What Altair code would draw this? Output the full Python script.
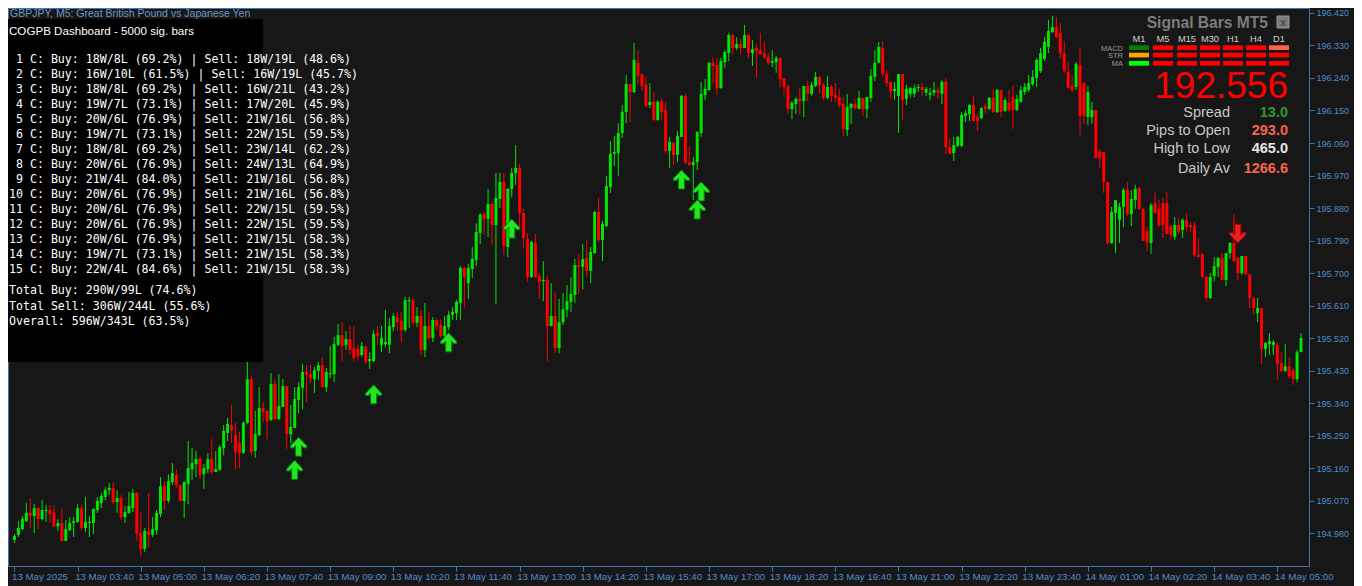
import altair as alt
import pandas as pd

# ---------------- data ----------------
opens = [
194.961,194.975,194.991,195.013,195.036,195.027,195.049,195.019,195.041,195.044,
195.036,194.999,195.008,194.958,194.988,195.008,195.011,195.049,194.994,195.008,
195.008,195.044,195.063,195.080,195.099,195.105,195.066,195.077,195.024,195.036,
195.049,195.091,194.980,194.936,194.986,194.975,194.988,195.033,195.110,195.069,
195.121,195.141,195.113,195.069,195.116,195.157,195.171,195.185,195.143,195.157,
195.185,195.149,195.155,195.215,195.257,195.279,195.251,195.229,195.202,195.285,
195.406,195.207,195.251,195.326,195.318,195.293,195.393,195.296,195.329,195.387,
195.254,195.271,195.348,195.382,195.426,195.420,195.406,195.429,195.445,195.384,
195.420,195.420,195.501,195.528,195.501,195.517,195.492,195.490,195.473,195.495,
195.456,195.456,195.534,195.501,195.503,195.501,195.550,195.578,195.567,195.542,
195.622,195.625,195.562,195.581,195.487,195.553,195.520,195.570,195.556,195.526,
195.550,195.584,195.589,195.617,195.714,195.672,195.711,195.736,195.811,195.863,
195.850,195.891,195.833,195.905,195.952,195.772,195.933,195.977,195.991,195.866,
195.794,195.689,195.783,195.692,195.677,195.681,195.553,195.581,195.492,195.564,
195.598,195.620,195.639,195.722,195.717,195.742,195.706,195.755,195.869,195.791,
195.830,195.938,196.030,196.032,196.088,196.146,196.223,196.201,196.282,196.251,
196.221,196.165,196.174,196.124,196.176,196.151,196.038,196.060,196.027,196.077,
196.190,196.007,195.999,196.007,196.088,196.193,196.207,196.282,196.276,196.212,
196.284,196.309,196.359,196.323,196.334,196.323,196.359,196.309,196.323,196.317,
196.309,196.298,196.282,196.284,196.295,196.240,196.218,196.154,196.168,196.182,
196.176,196.218,196.196,196.218,196.243,196.221,196.185,196.215,196.193,196.187,
196.168,196.096,196.157,196.168,196.154,196.185,196.154,196.185,196.243,196.282,
196.323,196.251,196.229,196.204,196.190,196.251,196.182,196.196,196.196,196.212,
196.215,196.199,196.193,196.199,196.207,196.196,196.229,196.049,196.032,196.052,
196.052,196.135,196.140,196.165,196.132,196.129,196.162,196.154,196.185,196.146,
196.207,196.149,196.171,196.187,196.151,196.174,196.201,196.207,196.223,196.240,
196.259,196.293,196.326,196.367,196.381,196.365,196.309,196.257,196.218,196.215,
196.276,196.226,196.132,196.132,196.151,196.035,196.035,195.952,195.783,195.866,
195.847,195.883,195.930,195.863,195.902,195.935,195.877,195.816,195.783,195.894,
195.877,195.894,195.894,195.830,195.800,195.833,195.819,195.847,195.833,195.830,
195.750,195.753,195.689,195.631,195.692,195.717,195.742,195.681,195.755,195.783,
195.742,195.700,195.747,195.697,195.631,195.589,195.603,195.490,195.503,195.501,
195.501,195.451,195.429,195.442,195.431,195.406,195.481]

highs = [
194.977,195.013,195.027,195.063,195.077,195.060,195.052,195.071,195.058,195.058,
195.058,195.019,195.047,195.016,195.024,195.024,195.060,195.058,195.080,195.027,
195.047,195.080,195.091,195.107,195.119,195.121,195.099,195.085,195.055,195.094,
195.102,195.094,195.038,194.994,195.091,195.024,195.044,195.135,195.124,195.143,
195.174,195.157,195.113,195.124,195.235,195.215,195.207,195.191,195.171,195.202,
195.240,195.207,195.224,195.279,195.299,195.335,195.285,195.260,195.290,195.465,
195.415,195.318,195.384,195.343,195.321,195.423,195.406,195.420,195.406,195.387,
195.335,195.384,195.398,195.448,195.445,195.445,195.440,195.454,195.467,195.437,
195.498,195.523,195.559,195.564,195.539,195.553,195.553,195.501,195.509,195.501,
195.481,195.542,195.553,195.553,195.598,195.575,195.589,195.592,195.592,195.634,
195.634,195.631,195.606,195.598,195.617,195.592,195.578,195.575,195.570,195.581,
195.595,195.606,195.625,195.719,195.717,195.725,195.772,195.838,195.866,195.869,
195.933,195.899,195.977,195.977,195.977,195.935,195.991,196.054,196.002,195.877,
195.811,195.789,195.808,195.700,195.733,195.692,195.672,195.647,195.628,195.645,
195.667,195.689,195.739,195.753,195.780,195.791,195.772,195.872,195.908,195.844,
195.969,196.066,196.079,196.115,196.165,196.248,196.223,196.337,196.317,196.251,
196.246,196.226,196.201,196.179,196.185,196.174,196.077,196.063,196.093,196.193,
196.196,196.052,196.021,196.093,196.229,196.237,196.284,196.298,196.295,196.295,
196.317,196.365,196.362,196.353,196.348,196.387,196.362,196.345,196.334,196.365,
196.342,196.309,196.317,196.301,196.298,196.240,196.223,196.176,196.187,196.212,
196.218,196.232,196.229,196.257,196.246,196.226,196.246,196.221,196.226,196.210,
196.187,196.196,196.171,196.182,196.204,196.185,196.187,196.265,196.317,196.340,
196.342,196.262,196.229,196.229,196.251,196.251,196.221,196.215,196.221,196.223,
196.226,196.215,196.212,196.229,196.215,196.235,196.240,196.074,196.077,196.079,
196.146,196.151,196.168,196.190,196.138,196.160,196.171,196.187,196.210,196.210,
196.207,196.185,196.207,196.218,196.193,196.218,196.226,196.248,196.262,196.295,
196.323,196.353,196.401,196.412,196.409,196.392,196.342,196.284,196.248,196.284,
196.326,196.229,196.218,196.174,196.151,196.043,196.035,195.952,195.883,195.902,
195.894,195.935,195.952,195.930,195.944,195.938,195.880,195.827,195.894,195.922,
195.902,195.908,195.924,195.833,195.855,195.852,195.852,195.866,195.841,195.841,
195.797,195.755,195.694,195.700,195.744,195.744,195.755,195.755,195.786,195.863,
195.744,195.747,195.747,195.697,195.634,195.631,195.603,195.509,195.534,195.514,
195.509,195.481,195.503,195.467,195.437,195.487,195.534]

lows = [
194.952,194.969,194.988,195.011,194.994,194.980,194.991,195.016,195.011,195.008,
194.997,194.986,194.958,194.958,194.986,194.969,195.008,194.988,194.983,194.969,
194.977,195.036,195.049,195.071,195.085,195.060,195.036,195.016,195.008,195.033,
195.038,194.958,194.914,194.928,194.939,194.969,194.975,195.024,195.044,195.063,
195.113,195.105,195.069,195.022,195.060,195.127,195.135,195.130,195.102,195.146,
195.143,195.149,195.152,195.196,195.235,195.229,195.157,195.160,195.199,195.282,
195.196,195.188,195.249,195.287,195.240,195.290,195.293,195.293,195.329,195.213,
195.229,195.271,195.312,195.323,195.343,195.395,195.368,195.404,195.384,195.371,
195.409,195.398,195.498,195.456,195.487,195.473,195.454,195.459,195.467,195.448,
195.434,195.454,195.501,195.481,195.495,195.478,195.539,195.539,195.509,195.537,
195.548,195.556,195.550,195.473,195.467,195.514,195.509,195.542,195.520,195.520,
195.542,195.570,195.570,195.570,195.603,195.628,195.686,195.719,195.780,195.805,
195.800,195.778,195.614,195.880,195.750,195.744,195.910,195.944,195.825,195.769,
195.677,195.686,195.686,195.628,195.622,195.456,195.553,195.478,195.478,195.556,
195.578,195.592,195.617,195.642,195.654,195.689,195.672,195.755,195.786,195.733,
195.827,195.922,195.996,195.969,196.074,196.115,196.118,196.198,196.221,196.204,
196.160,196.157,196.121,196.121,196.124,196.032,195.991,195.999,196.007,196.077,
196.002,195.996,195.902,195.985,196.077,196.179,196.204,196.226,196.193,196.210,
196.268,196.287,196.306,196.317,196.306,196.323,196.295,196.273,196.240,196.304,
196.293,196.276,196.270,196.254,196.215,196.193,196.140,196.126,196.140,196.138,
196.132,196.176,196.190,196.215,196.198,196.179,196.182,196.174,196.174,196.157,
196.079,196.079,196.113,196.151,196.154,196.135,196.129,196.174,196.232,196.282,
196.243,196.215,196.182,196.179,196.088,196.124,196.165,196.187,196.187,196.201,
196.190,196.190,196.179,196.190,196.182,196.168,196.030,196.030,196.010,196.049,
196.049,196.118,196.121,196.118,196.093,196.126,196.143,196.151,196.143,196.143,
196.132,196.146,196.146,196.099,196.149,196.171,196.193,196.201,196.218,196.215,
196.254,196.287,196.309,196.365,196.351,196.293,196.254,196.212,196.201,196.207,
196.082,196.113,196.110,196.113,196.018,195.991,195.922,195.778,195.780,195.755,
195.783,195.827,195.858,195.830,195.877,195.877,195.789,195.761,195.753,195.866,
195.827,195.797,195.808,195.794,195.791,195.808,195.797,195.814,195.814,195.744,
195.744,195.686,195.620,195.628,195.677,195.689,195.681,195.664,195.739,195.730,
195.681,195.694,195.694,195.603,195.584,195.564,195.448,195.467,195.473,195.473,
195.404,195.426,195.426,195.409,195.390,195.398,195.481]

closes = [
194.972,194.994,195.019,195.036,195.027,195.049,195.019,195.044,195.044,195.033,
194.999,195.008,194.958,194.991,195.008,195.013,195.049,194.994,195.011,195.011,
195.047,195.069,195.083,195.099,195.105,195.066,195.077,195.024,195.038,195.055,
195.091,194.977,194.936,194.986,194.975,194.991,195.036,195.110,195.069,195.124,
195.146,195.113,195.069,195.121,195.160,195.174,195.185,195.141,195.160,195.185,
195.149,195.157,195.218,195.263,195.282,195.265,195.204,195.202,195.285,195.406,
195.204,195.254,195.326,195.315,195.290,195.393,195.296,195.332,195.387,195.254,
195.274,195.351,195.384,195.426,195.418,195.409,195.431,195.445,195.384,195.426,
195.423,195.503,195.528,195.498,195.517,195.487,195.465,195.470,195.498,195.454,
195.462,195.531,195.526,195.520,195.509,195.553,195.581,195.564,195.542,195.625,
195.625,195.562,195.581,195.487,195.553,195.520,195.570,195.553,195.526,195.553,
195.584,195.592,195.620,195.714,195.689,195.714,195.739,195.814,195.861,195.850,
195.891,195.833,195.908,195.952,195.775,195.933,195.977,195.991,195.866,195.797,
195.689,195.786,195.689,195.675,195.681,195.553,195.581,195.492,195.564,195.600,
195.622,195.642,195.722,195.717,195.739,195.706,195.758,195.869,195.791,195.836,
195.941,196.030,196.035,196.088,196.146,196.223,196.201,196.290,196.246,196.218,
196.162,196.174,196.124,196.174,196.146,196.038,196.063,196.027,196.079,196.190,
196.005,195.999,196.007,196.090,196.196,196.210,196.282,196.273,196.212,196.287,
196.312,196.359,196.323,196.334,196.323,196.359,196.309,196.320,196.315,196.306,
196.298,196.282,196.287,196.295,196.237,196.215,196.154,196.171,196.182,196.176,
196.218,196.196,196.221,196.243,196.221,196.185,196.215,196.190,196.185,196.165,
196.099,196.160,196.168,196.157,196.185,196.154,196.187,196.246,196.282,196.326,
196.251,196.226,196.204,196.210,196.251,196.179,196.210,196.212,196.212,196.215,
196.207,196.210,196.199,196.207,196.199,196.229,196.049,196.030,196.054,196.077,
196.138,196.143,196.165,196.121,196.121,196.157,196.154,196.185,196.146,196.207,
196.146,196.179,196.151,196.151,196.182,196.207,196.215,196.226,196.243,196.290,
196.309,196.340,196.370,196.381,196.353,196.309,196.259,196.212,196.207,196.279,
196.135,196.135,196.201,196.151,196.018,196.018,195.952,195.783,195.869,195.902,
195.883,195.930,195.863,195.905,195.933,195.877,195.789,195.786,195.888,195.866,
195.833,195.833,195.808,195.805,195.833,195.814,195.847,195.827,195.827,195.750,
195.744,195.689,195.631,195.689,195.719,195.742,195.681,195.755,195.783,195.733,
195.700,195.747,195.697,195.631,195.603,195.603,195.490,195.506,195.512,195.509,
195.448,195.429,195.442,195.415,195.406,195.481,195.520]

time_labels = ["13 May 2025", "13 May 03:40", "13 May 05:00", "13 May 06:20", "13 May 07:40",
               "13 May 09:00", "13 May 10:20", "13 May 11:40", "13 May 13:00", "13 May 14:20",
               "13 May 15:40", "13 May 17:00", "13 May 18:20", "13 May 19:40", "13 May 21:00",
               "13 May 22:20", "13 May 23:40", "14 May 01:00", "14 May 02:20", "14 May 03:40",
               "14 May 05:00"]
bars_per_label = 16
price_ticks = [194.980, 195.070, 195.160, 195.250, 195.340, 195.430, 195.520, 195.610, 195.700,
               195.790, 195.880, 195.970, 196.060, 196.150, 196.240, 196.330, 196.420]

buy_signal_bars = [71, 72, 91, 110, 126, 169, 173, 174]
buy_signal_prices = [195.155, 195.219, 195.364, 195.508, 195.823, 195.959, 195.876, 195.926]
sell_signal_bars = [310]
sell_signal_prices = [195.809]

window_title = "GBPJPY, M5:  Great British Pound vs Japanese Yen"
dash_title = "COGPB Dashboard - 5000 sig. bars"
dash_lines = [
    " 1 C: Buy: 18W/8L (69.2%) | Sell: 18W/19L (48.6%)",
    " 2 C: Buy: 16W/10L (61.5%) | Sell: 16W/19L (45.7%)",
    " 3 C: Buy: 18W/8L (69.2%) | Sell: 16W/21L (43.2%)",
    " 4 C: Buy: 19W/7L (73.1%) | Sell: 17W/20L (45.9%)",
    " 5 C: Buy: 20W/6L (76.9%) | Sell: 21W/16L (56.8%)",
    " 6 C: Buy: 19W/7L (73.1%) | Sell: 22W/15L (59.5%)",
    " 7 C: Buy: 18W/8L (69.2%) | Sell: 23W/14L (62.2%)",
    " 8 C: Buy: 20W/6L (76.9%) | Sell: 24W/13L (64.9%)",
    " 9 C: Buy: 21W/4L (84.0%) | Sell: 21W/16L (56.8%)",
    "10 C: Buy: 20W/6L (76.9%) | Sell: 21W/16L (56.8%)",
    "11 C: Buy: 20W/6L (76.9%) | Sell: 22W/15L (59.5%)",
    "12 C: Buy: 20W/6L (76.9%) | Sell: 22W/15L (59.5%)",
    "13 C: Buy: 20W/6L (76.9%) | Sell: 21W/15L (58.3%)",
    "14 C: Buy: 19W/7L (73.1%) | Sell: 21W/15L (58.3%)",
    "15 C: Buy: 22W/4L (84.6%) | Sell: 21W/15L (58.3%)",
]
dash_totals = [
    "Total Buy: 290W/99L (74.6%)",
    "Total Sell: 306W/244L (55.6%)",
    "Overall: 596W/343L (63.5%)",
]

panel_title = "Signal Bars MT5"
timeframes = ["M1", "M5", "M15", "M30", "H1", "H4", "D1"]
indicators = ["MACD", "STR", "MA"]
cell_colors = [
    ["#008000", "#ff0000", "#ff0000", "#ff0000", "#ff0000", "#ff0000", "#ff6347"],
    ["#ffa500", "#ff0000", "#ff0000", "#ff0000", "#ff0000", "#ff0000", "#ff0000"],
    ["#00ff00", "#ff0000", "#ff0000", "#ff0000", "#ff0000", "#ff0000", "#ff0000"],
]
big_price = "192.556"
info_labels = ["Spread", "Pips to Open", "High to Low", "Daily Av"]
info_values = ["13.0", "293.0", "465.0", "1266.6"]
info_colors = ["#2f962f", "#f6654e", "#e6e6e6", "#f6654e"]

# ---------------- styling ----------------
BG = "#171717"
FRAME = "#3d78b8"
LABEL = "#4f8ccb"
GREEN = "#00e600"
RED = "#ff0000"
SANS = "Liberation Sans"
MONO = "DejaVu Sans Mono"
W, H = 1301, 558

n = len(opens)
df = pd.DataFrame({"i": list(range(n)), "o": opens, "h": highs, "l": lows, "c": closes})
df["dir"] = ["up" if c >= o else "dn" for o, c in zip(opens, closes)]

xscale = alt.Scale(domain=[-0.377, 326.754], nice=False, zero=False)
yscale = alt.Scale(domain=[194.8888, 196.4338], nice=False, zero=False)
color = alt.Color("dir:N", scale=alt.Scale(domain=["up", "dn"], range=[GREEN, RED]), legend=None)

label_expr = "[" + ",".join("'%s'" % s for s in time_labels) + "][round(datum.value/%d)]" % bars_per_label
xaxis = alt.Axis(values=[bars_per_label * k for k in range(len(time_labels))], labelExpr=label_expr,
                 title=None, grid=False, domain=False, ticks=True, tickSize=5, tickColor=FRAME,
                 labelColor=LABEL, labelFont=SANS, labelFontSize=9.7, labelAlign="left",
                 labelBaseline="top", labelPadding=0, labelOffset=-3, labelOverlap=False,
                 labelBound=False, labelFlush=False)
yaxis = alt.Axis(orient="right", values=price_ticks, format=".3f", title=None, grid=False,
                 domain=False, ticks=True, tickSize=5, tickColor=FRAME, labelColor=LABEL,
                 labelFont=SANS, labelFontSize=9, labelPadding=2, labelOverlap=False,
                 labelFlush=False, labelBound=False)

X = lambda f: alt.X(f, scale=xscale, axis=xaxis)
Y = lambda f: alt.Y(f, scale=yscale, axis=yaxis)

wicks = alt.Chart(df).mark_rule(strokeWidth=1).encode(x=X("i:Q"), y=Y("l:Q"), y2="h:Q", color=color)
bodies = alt.Chart(df).mark_bar(size=3).encode(x=X("i:Q"), y=Y("o:Q"), y2="c:Q", color=color)

UP = ("M0,-1L0.85,-0.1L0.85,0.12L0.55,0.12L0.32,-0.12L0.32,1L-0.32,1L-0.32,-0.12"
      "L-0.55,0.12L-0.85,0.12L-0.85,-0.1Z")
DN = ("M0,1L0.85,0.1L0.85,-0.12L0.55,-0.12L0.32,0.12L0.32,-1L-0.32,-1L-0.32,0.12"
      "L-0.55,-0.12L-0.85,-0.12L-0.85,0.1Z")
buy = pd.DataFrame({"i": buy_signal_bars, "p": buy_signal_prices})
sell = pd.DataFrame({"i": sell_signal_bars, "p": sell_signal_prices})
buy_arrows = alt.Chart(buy).mark_point(shape=UP, size=361, filled=True, fill="#1fe81f",
                                       stroke="#0d7a0d", strokeWidth=1, opacity=1).encode(
    x=X("i:Q"), y=Y("p:Q"))
sell_arrows = alt.Chart(sell).mark_point(shape=DN, size=361, filled=True, fill="#f01c1c",
                                         stroke="#8a0f0f", strokeWidth=1, opacity=1).encode(
    x=X("i:Q"), y=Y("p:Q"))

one = pd.DataFrame({"k": [0]})


def txt(s, x, y, size, col, align="left", weight="normal", font=SANS, line_height=None):
    kw = dict(text=s, align=align, baseline="alphabetic", fontSize=size, font=font,
              fontWeight=weight, color=col)
    if line_height is not None:
        kw["lineHeight"] = line_height
    return alt.Chart(one).mark_text(**kw).encode(x=alt.value(x), y=alt.value(y))


def box(x1, x2, y1, y2, col, stroke=None):
    kw = dict(color=col)
    if stroke is not None:
        kw["stroke"] = stroke
        kw["strokeWidth"] = 1
    return alt.Chart(one).mark_rect(**kw).encode(
        x=alt.value(x1), x2=alt.value(x2), y=alt.value(y1), y2=alt.value(y2))


CHAR = 6.98  # advance of one monospace character
layers = [wicks, bodies, buy_arrows, sell_arrows]
# window title
layers.append(txt(window_title, 2, 8.5, 10.5, "#6d98c6"))
# dashboard
layers.append(box(0, 255, 11, 354, "#000000"))
layers.append(txt(dash_title, 1, 27, 11.6, "#ffffff"))
short = [s.strip() for s in dash_lines if s.startswith(" ")]
longl = [s for s in dash_lines if not s.startswith(" ")]
layers.append(txt(short, 1 + CHAR, 55, 11.6, "#ffffff", font=MONO, line_height=15))
layers.append(txt(longl, 1, 55 + 15 * len(short), 11.6, "#ffffff", font=MONO, line_height=15))
layers.append(txt(dash_totals, 1, 286, 11.6, "#ffffff", font=MONO, line_height=15.5))
# signal bars panel
layers.append(txt(panel_title, 1260, 19.5, 15.6, "#7c7c7c", align="right", weight="bold"))
layers.append(box(1269, 1281, 8, 20, "#7a7a7a", stroke="#9a9a9a"))
layers.append(txt("x", 1275, 17.5, 11, "#4a4a4a", align="center", weight="bold"))
col_x = [1121, 1145, 1169, 1192, 1215, 1238, 1261]
row_y = [37.3, 44.7, 53.0]
for c, tf in enumerate(timeframes):
    layers.append(txt(tf, col_x[c] + 10, 33.7, 9.3, "#cfcfcf", align="center"))
for r, ind in enumerate(indicators):
    layers.append(txt(ind, 1115, row_y[r] + 5.2, 7.5, "#9a9a9a", align="right"))
    for c in range(len(timeframes)):
        layers.append(box(col_x[c], col_x[c] + 20, row_y[r], row_y[r] + 4.7, cell_colors[r][c]))
layers.append(txt(big_price, 1280, 90.3, 37, "#ff0000", align="right"))
info_y = [108.5, 126.5, 145, 164.7]
for k in range(len(info_labels)):
    layers.append(txt(info_labels[k], 1222, info_y[k], 14.5, "#c8c8c8", align="right"))
    layers.append(txt(info_values[k], 1280, info_y[k], 14.5, info_colors[k], align="right",
                      weight="bold"))

chart = alt.layer(*layers).properties(
    width=W, height=H,
    autosize=alt.AutoSizeParams(type="none"),
    padding={"left": 0, "top": 0, "right": 45, "bottom": 20},
    background=BG,
).configure_view(stroke=FRAME, strokeWidth=1, fill=BG)

chart.save("out.html", embed_options={"renderer": "svg", "actions": False})
